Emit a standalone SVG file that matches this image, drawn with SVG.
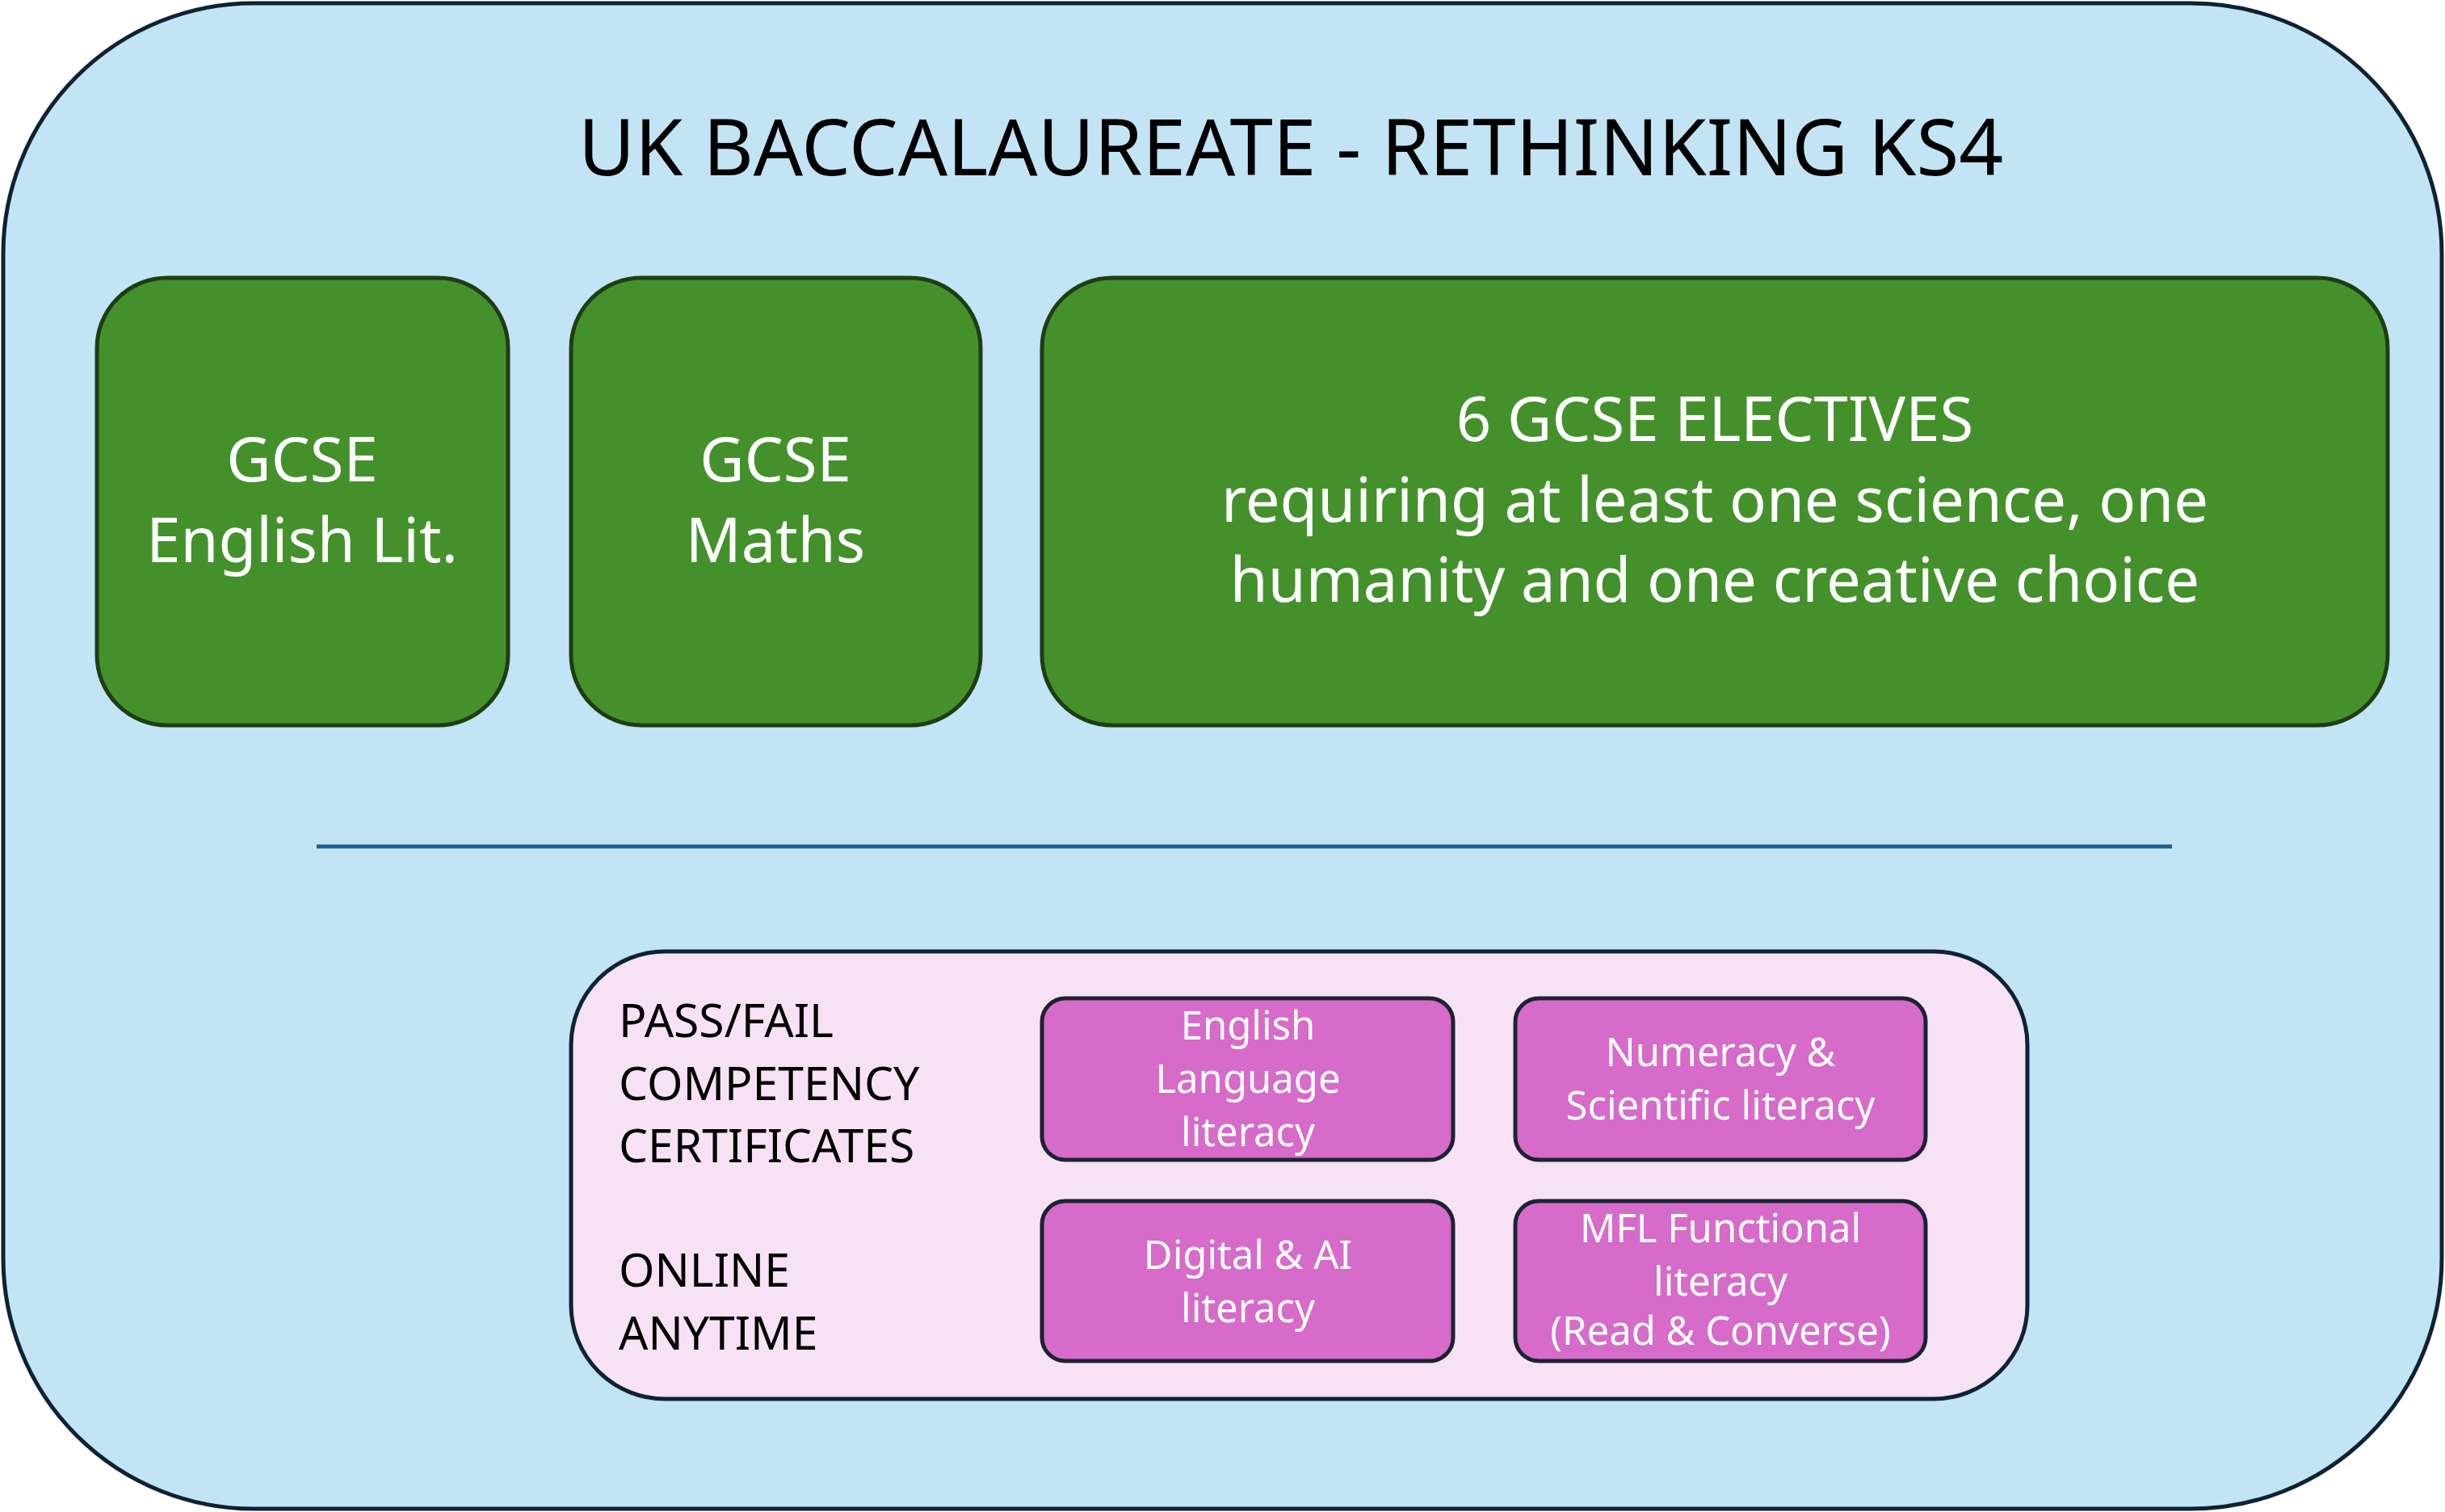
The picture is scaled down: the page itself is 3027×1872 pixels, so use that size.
<svg xmlns="http://www.w3.org/2000/svg" width="3027" height="1872" viewBox="0 0 3027 1872">
<style>
text{font-family:"Noto Sans","Liberation Sans",sans-serif;text-anchor:middle}
.g{fill:#44912c;stroke:#1f3d14;stroke-width:5}
.gt{fill:#fff;font-size:76px}
.m{fill:#d66bc9;stroke:#1d2233;stroke-width:5}
.mt{fill:#fff;font-size:49px}
.lt{fill:#000;font-size:57px;text-anchor:start}
</style>
<g id="outer"><rect x="4" y="4" width="3019" height="1864" rx="310" fill="#c2e4f4" stroke="#0e2233" stroke-width="5"/>
<text x="1598" y="217" font-size="96" fill="#000">UK BACCALAUREATE - RETHINKING KS4</text></g>
<g id="eng"><rect class="g" x="120" y="344" width="509" height="554" rx="87"/>
<text class="gt" x="374" y="596">GCSE</text><text class="gt" x="374" y="696">English Lit.</text></g>
<g id="maths"><rect class="g" x="707" y="344" width="507" height="554" rx="87"/>
<text class="gt" x="960" y="596">GCSE</text><text class="gt" x="960" y="696">Maths</text></g>
<g id="electives"><rect class="g" x="1290" y="344" width="1666" height="554" rx="87"/>
<text class="gt" x="2123" y="546">6 GCSE ELECTIVES</text>
<text class="gt" x="2123" y="646">requiring at least one science, one</text>
<text class="gt" x="2123" y="745">humanity and one creative choice</text></g>
<g id="connectors"><line x1="392" y1="1048" x2="2689" y2="1048" stroke="#1f5f8b" stroke-width="5"/></g>
<g id="certs"><rect x="707" y="1178" width="1803" height="554" rx="116" fill="#f7e1f5" stroke="#0e2233" stroke-width="5"/>
<text class="lt" x="766" y="1284">PASS/FAIL</text>
<text class="lt" x="766" y="1362">COMPETENCY</text>
<text class="lt" x="766" y="1439">CERTIFICATES</text>
<text class="lt" x="766" y="1593">ONLINE</text>
<text class="lt" x="766" y="1671">ANYTIME</text></g>
<g id="englang"><rect class="m" x="1290" y="1236" width="509" height="200" rx="29"/>
<text class="mt" x="1545" y="1287">English</text><text class="mt" x="1545" y="1353">Language</text><text class="mt" x="1545" y="1419">literacy</text></g>
<g id="numeracy"><rect class="m" x="1876" y="1236" width="508" height="200" rx="29"/>
<text class="mt" x="2130" y="1320">Numeracy &amp;</text><text class="mt" x="2130" y="1386">Scientific literacy</text></g>
<g id="digital"><rect class="m" x="1290" y="1487" width="509" height="198" rx="29"/>
<text class="mt" x="1545" y="1571">Digital &amp; AI</text><text class="mt" x="1545" y="1637">literacy</text></g>
<g id="mfl"><rect class="m" x="1876" y="1487" width="508" height="198" rx="29"/>
<text class="mt" x="2130" y="1538">MFL Functional</text><text class="mt" x="2130" y="1604">literacy</text><text class="mt" x="2130" y="1665" font-size="44">(Read &amp; Converse)</text></g>
</svg>
